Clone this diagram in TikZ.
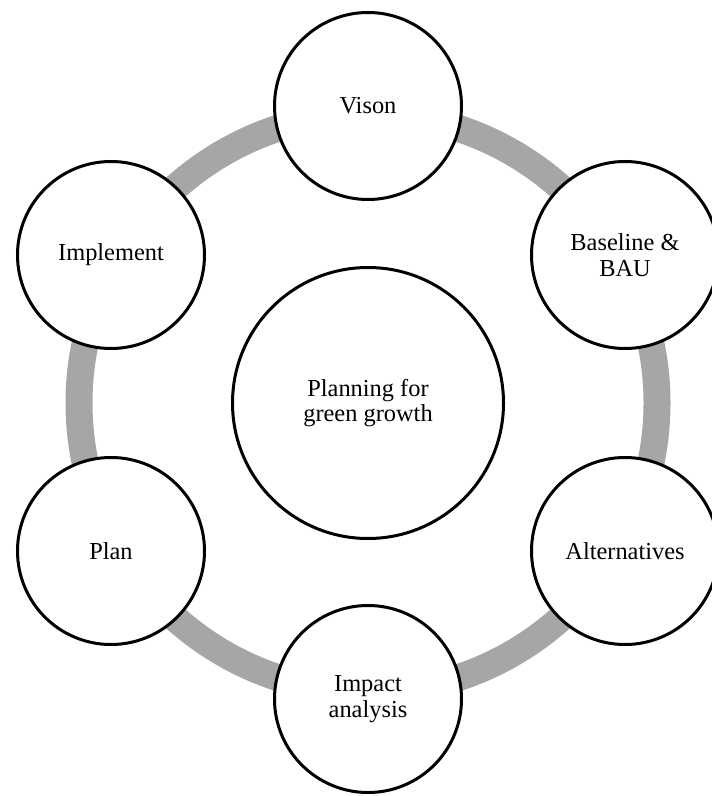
\documentclass[tikz,border=0pt]{standalone}
\usepackage{fontspec}
\setmainfont{Liberation Serif}
\usepackage{tikz}
\definecolor{ringgray}{HTML}{A6A6A6}
\tikzset{stage/.style={circle,draw=black,line width=1.5pt,fill=white,
   minimum size=93.5pt,inner sep=0pt,align=center,
   font=\fontsize{12.2}{12.8}\selectfont},
 hub/.style={stage,minimum size=135.5pt},
 ring/.style={draw=ringgray,line width=13.5pt},
 }

\begin{document}
\begin{tikzpicture}[x=0.5pt,y=-0.5pt]
        \useasboundingbox (0,0) rectangle (711,796);
        \node[hub] (hub) at (368,403) {Planning for\\green growth};
        \draw[ring] (hub.center) circle[radius=144.5pt];
        \node[stage] (vision) at (368,106) {Vison};
        \node[stage] (baseline) at (625,255) {Baseline \&\\BAU};
        \node[stage] (alternatives) at (625,551) {Alternatives};
        \node[stage] (impact) at (368,699) {Impact\\analysis};
        \node[stage] (plan) at (111,551) {Plan};
        \node[stage] (implement) at (111,255) {Implement};
    \end{tikzpicture}
\end{document}
